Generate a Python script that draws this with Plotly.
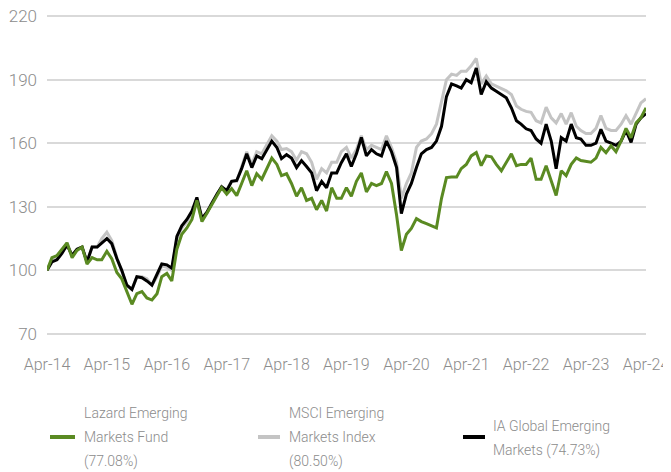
import pandas as pd
import plotly.graph_objects as go

dates = pd.date_range("2014-04-01", "2024-04-01", freq="MS")

lazard = [100, 106, 107, 110, 113, 106, 109.4, 111, 103, 106, 105, 105, 109, 105.5, 99, 96, 90, 84, 89, 90,
          87, 86, 89, 97, 98.6, 95, 110, 117, 120, 124, 133, 123, 127, 131.5, 135.3, 139, 136, 138.6, 135.3, 141,
          147, 140, 145.6, 143, 148, 153, 150, 144.7, 145.6, 141, 135, 139, 133, 134, 128.6, 133, 128, 139, 134, 134,
          139, 135, 142, 146, 137, 141, 140, 141, 146.6, 141, 126, 109.4, 117, 119.8, 124.4, 123, 122, 121, 120, 134,
          143.8, 144, 144, 148, 150, 154, 155.6, 149.4, 154, 153.6, 150, 147, 151, 155, 149.4, 150, 150, 153, 143, 143,
          149.4, 142, 135.3, 147, 144.7, 150, 153, 151.8, 151.5, 151, 153, 158, 155.5, 158.8, 156, 161, 167, 162.6, 169.6, 172,
          176.7]

msci = [100, 105, 106, 109, 113, 107, 110, 111, 104, 111, 111, 115, 118, 114, 106, 100, 93, 91, 97, 97,
        96, 93, 97, 102, 101.5, 100, 115, 120, 123, 127, 133, 124, 127, 132, 136, 139, 138, 142, 142, 149,
        156, 150, 156, 155, 159, 163.5, 161, 157, 157.5, 156, 152, 156, 155, 151, 143, 148, 146, 151, 151, 156,
        158, 153, 157, 163.5, 157, 159, 158, 157, 163.5, 158, 151, 134, 141, 146, 158, 161, 162, 164.5, 169, 180,
        190, 192.6, 192, 194, 194, 196.5, 200, 188, 191.7, 188, 187, 186, 184.7, 183, 177.6, 176, 175, 174.6, 170.6, 169.6,
        177, 172, 169.6, 174, 169, 174.4, 168, 166, 164.6, 164.6, 167, 173, 167, 166, 166, 169, 173, 169, 174, 179,
        181]

ia = [100, 104, 105, 108, 112, 107, 110, 111, 104, 111, 111, 113, 115, 112.6, 105.6, 100, 93, 91, 97, 96.5,
      95, 93, 98, 103, 102.6, 101, 116, 121, 124, 128, 134.4, 124.5, 127.4, 132, 136, 139.5, 137.6, 142, 142.4, 148,
      155, 148.5, 154, 152.7, 157, 161, 158, 152.7, 154.6, 153, 148.5, 151.8, 149, 146, 137.6, 142, 139, 146, 146, 150.8,
      155, 149, 155, 162.7, 154, 157, 155, 154, 161, 156, 148.5, 126.8, 136, 141, 148.5, 155, 157, 158, 161, 168,
      182, 188, 187, 186, 190, 188.5, 195.5, 183, 189, 186, 184.5, 183, 181.4, 176.7, 170.6, 169, 166.8, 166, 162, 160,
      169, 161, 148, 162.6, 161, 169, 162.6, 162, 159, 159, 160, 166.6, 161, 160, 159, 161, 166, 160.4, 169, 172,
      174]

series_names = ["Lazard Emerging Markets Fund (77.08%)",
                "MSCI Emerging Markets Index (80.50%)",
                "IA Global Emerging Markets (74.73%)"]
legend_lines = [["Lazard Emerging", "Markets Fund", "(77.08%)"],
                ["MSCI Emerging", "Markets Index", "(80.50%)"],
                ["IA Global Emerging", "Markets (74.73%)"]]
colors = ["#5a8a22", "#c4c4c4", "#000000"]

y_ticks = [70, 100, 130, 160, 190, 220]
x_tick_dates = pd.date_range("2014-04-01", "2024-04-01", freq="12MS")
x_tick_text = ["Apr-14", "Apr-15", "Apr-16", "Apr-17", "Apr-18", "Apr-19",
               "Apr-20", "Apr-21", "Apr-22", "Apr-23", "Apr-24"]

# page layout (page pixels; the page body has an 8px margin)
BODY = 8
PLOT_L, PLOT_R, PLOT_T, PLOT_B = 47, 646, 15, 335
FIG_W, FIG_H = 671 - BODY, 472 - BODY


def px(xp):
    return (xp - PLOT_L) / (PLOT_R - PLOT_L)


def py(yp):
    return (PLOT_B - yp) / (PLOT_B - PLOT_T)


fig = go.Figure()
fig.add_trace(go.Scatter(x=dates, y=msci, name=series_names[1], mode="lines",
                         line=dict(color=colors[1], width=3), showlegend=False))
fig.add_trace(go.Scatter(x=dates, y=ia, name=series_names[2], mode="lines",
                         line=dict(color=colors[2], width=3), showlegend=False))
fig.add_trace(go.Scatter(x=dates, y=lazard, name=series_names[0], mode="lines",
                         line=dict(color=colors[0], width=3), showlegend=False))

font_fam = "Roboto, 'Liberation Sans', Arial, sans-serif"
txt_col = "#8c8c8c"

# legend drawn below the chart
leg_sym = [(50, 75), (258, 280), (463, 485)]
leg_txt_x = [82, 287, 491]
leg_sym_y = 437
leg_line_y = [[413, 437, 461], [413, 437, 461], [426, 450]]
shapes, annotations = [], []
for i in range(3):
    x0, x1 = leg_sym[i]
    shapes.append(dict(type="line", xref="paper", yref="paper",
                       x0=px(x0), x1=px(x1), y0=py(leg_sym_y), y1=py(leg_sym_y),
                       line=dict(color=colors[i], width=4)))
    for t, yy in zip(legend_lines[i], leg_line_y[i]):
        annotations.append(dict(text=t, xref="paper", yref="paper", x=px(leg_txt_x[i]), y=py(yy),
                                xanchor="left", yanchor="middle", showarrow=False,
                                font=dict(size=14, color=txt_col, family=font_fam, weight=300)))

fig.update_layout(
    width=FIG_W, height=FIG_H,
    margin=dict(l=PLOT_L - BODY, r=FIG_W - (PLOT_R - BODY), t=PLOT_T - BODY,
                b=FIG_H - (PLOT_B - BODY), autoexpand=False),
    paper_bgcolor="white", plot_bgcolor="white",
    font=dict(family=font_fam, color=txt_col, size=16, weight=300),
    showlegend=False,
    xaxis=dict(range=[dates[0], dates[-1]], tickvals=x_tick_dates, ticktext=x_tick_text,
               showgrid=False, zeroline=False, showline=False, ticks="", automargin=False,
               ticklabelstandoff=18, tickfont=dict(size=16), ticklabeloverflow="allow"),
    yaxis=dict(range=[69.5, 220.5], tickvals=y_ticks, showgrid=True, gridcolor="#d9d9d9",
               gridwidth=1.5, zeroline=False, showline=False, ticks="", automargin=False,
               ticklabelstandoff=9, tickfont=dict(size=17), ticklabeloverflow="allow"),
    shapes=shapes,
    annotations=annotations,
)
fig.write_html("out.html")
